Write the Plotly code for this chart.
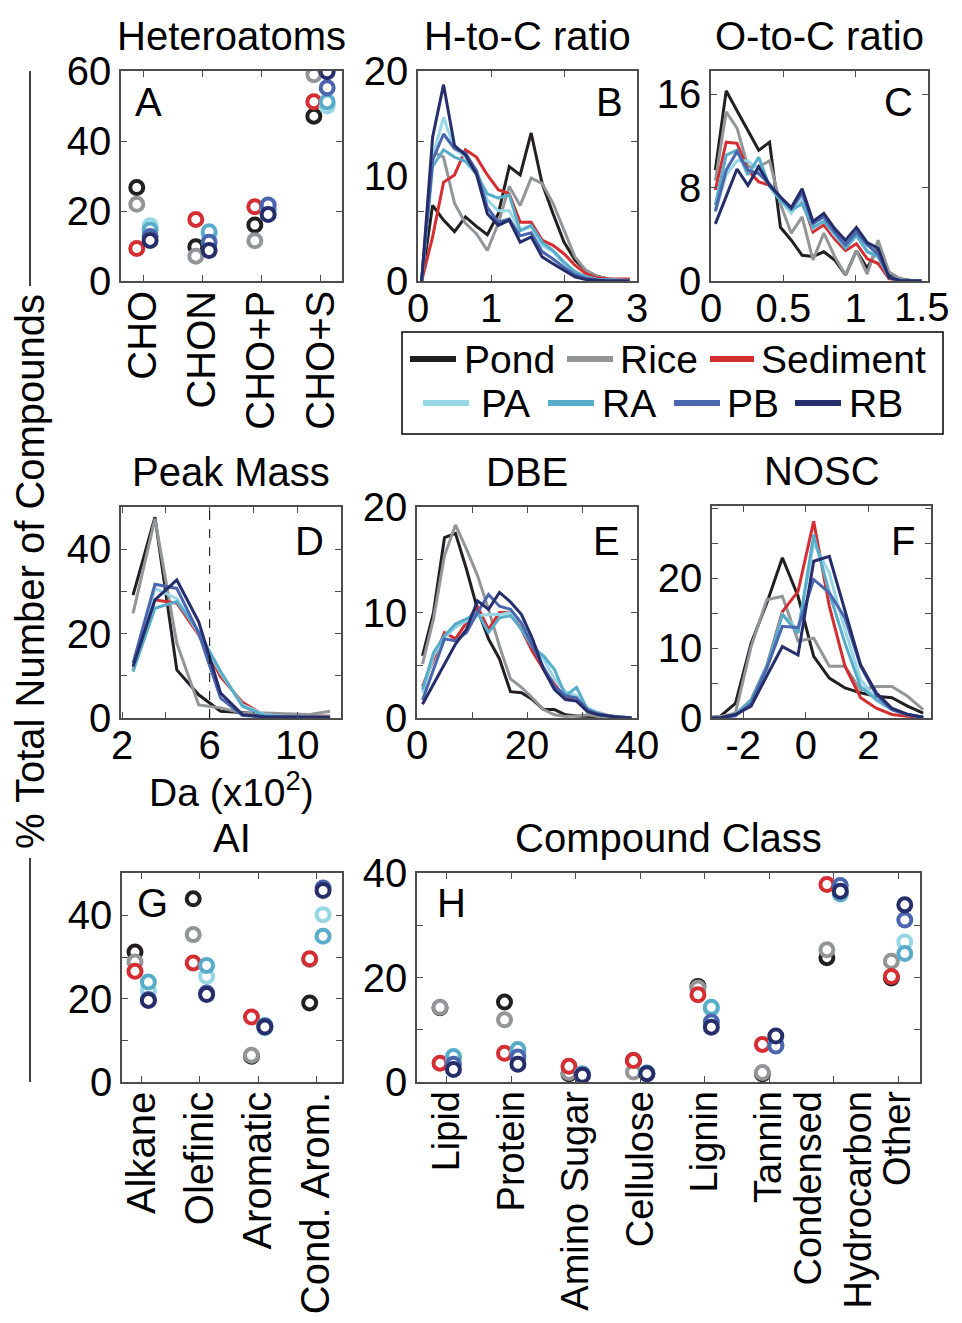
import plotly.graph_objects as go

# page body adds an 8px margin, so the figure is drawn from (8, 8)
OFF = 8
W, H = 946, 1307
FONT = "Liberation Sans, Arial, Helvetica, sans-serif"
AX = "#4d4d4d"

# ---------------- data ----------------
samples = ["Pond", "Rice", "Sediment", "PA", "RA", "PB", "RB"]
colors = ["#231f20", "#939598", "#d42e33", "#97d6e4", "#57adc9", "#4a66ae", "#252d6b"]

# A: heteroatoms
hetero_cats = ["CHO", "CHON", "CHO+P", "CHO+S"]
hetero = {
    "Pond": [26.7, 9.8, 16.0, 47.1],
    "Rice": [21.9, 7.1, 11.5, 58.9],
    "Sediment": [9.3, 17.6, 21.2, 51.2],
    "PA": [15.8, 13.5, 20.2, 50.0],
    "RA": [14.6, 14.1, 20.5, 51.2],
    "PB": [12.7, 11.1, 21.7, 55.2],
    "RB": [11.6, 8.7, 19.0, 59.8],
}

# B: H-to-C ratio
hc_x = [0.05, 0.20, 0.35, 0.50, 0.65, 0.80, 0.95, 1.10, 1.25, 1.40,
        1.55, 1.70, 1.85, 2.00, 2.15, 2.30, 2.45, 2.60, 2.75, 2.90]
hc = {
    "Pond": [0, 7.2, 5.8, 4.7, 6.1, 5.2, 4.4, 6.4, 10.9, 10.1, 14.1, 9.3, 6.4, 3.7, 2.0, 1.0, 0.45, 0.2, 0.1, 0.1],
    "Rice": [0, 12.3, 11.8, 7.4, 5.5, 4.5, 2.9, 5.5, 9.0, 7.2, 9.8, 9.3, 7.4, 4.8, 2.3, 1.0, 0.45, 0.2, 0.1, 0.1],
    "Sediment": [0, 4.2, 9.4, 10.1, 12.5, 11.8, 10.1, 8.7, 8.3, 5.6, 5.6, 3.9, 3.4, 2.6, 1.5, 0.7, 0.3, 0.2, 0.2, 0.2],
    "PA": [0, 11.8, 15.6, 12.6, 11.8, 10.6, 7.7, 6.7, 6.7, 4.8, 5.2, 3.4, 2.8, 1.65, 0.86, 0.4, 0.15, 0.1, 0.05, 0.05],
    "RA": [0, 10.9, 12.5, 11.8, 11.4, 10.2, 8.3, 7.9, 8.2, 4.8, 5.3, 3.7, 2.9, 1.8, 0.9, 0.4, 0.15, 0.1, 0.05, 0.05],
    "PB": [0, 11.5, 14.0, 12.6, 12.2, 10.5, 7.0, 5.6, 5.9, 4.3, 4.6, 2.8, 2.1, 1.3, 0.6, 0.25, 0.1, 0.05, 0, 0],
    "RB": [0, 13.7, 18.7, 12.9, 12.0, 10.2, 6.4, 5.3, 5.8, 3.7, 4.2, 2.3, 1.65, 1.0, 0.4, 0.15, 0.05, 0, 0, 0],
}

# C: O-to-C ratio
oc_x = [0.03, 0.105, 0.18, 0.255, 0.33, 0.405, 0.48, 0.555, 0.63, 0.705,
        0.78, 0.855, 0.93, 1.005, 1.08, 1.155, 1.23, 1.305, 1.38, 1.455]
oc = {
    "Pond": [9.5, 16.3, 14.6, 12.9, 11.2, 11.9, 4.6, 3.5, 2.2, 2.1, 2.5, 1.8, 0.5, 2.6, 1.1, 2.9, 0.6, 0.2, 0.05, 0],
    "Rice": [8.6, 14.5, 13.1, 9.8, 9.8, 10.3, 6.6, 4.1, 5.5, 1.8, 4.1, 2.1, 0.5, 2.6, 0.6, 3.5, 0.8, 0.2, 0.05, 0],
    "Sediment": [7.8, 11.9, 11.8, 9.5, 8.5, 8.2, 7.1, 6.2, 6.9, 4.2, 4.8, 3.6, 2.6, 3.2, 1.9, 1.5, 0.2, 0.05, 0, 0],
    "PA": [5.9, 9.1, 10.3, 10.3, 9.5, 8.2, 6.9, 5.8, 7.1, 4.5, 5.2, 3.9, 2.9, 4.1, 2.6, 2.1, 0.3, 0.05, 0, 0],
    "RA": [6.5, 10.8, 11.2, 9.1, 10.6, 8.1, 6.9, 6.1, 6.6, 4.6, 5.1, 4.1, 2.8, 3.9, 2.5, 2.1, 0.3, 0.05, 0, 0],
    "PB": [6.0, 9.5, 11.1, 9.5, 9.2, 8.3, 7.2, 6.2, 7.5, 4.9, 5.5, 4.2, 3.1, 4.2, 3.1, 2.3, 0.35, 0.05, 0, 0],
    "RB": [4.9, 7.2, 9.6, 8.2, 9.8, 8.2, 7.2, 6.3, 7.9, 5.1, 5.8, 4.5, 3.5, 4.6, 3.3, 2.8, 0.3, 0.05, 0, 0],
}

# D: peak mass (Da x100)
mass_x = [2.5, 3.5, 4.5, 5.5, 6.5, 7.5, 8.5, 9.5, 10.5, 11.5]
mass_threshold = 6
mass = {
    "Pond": [29.1, 47.6, 11.4, 5.5, 1.6, 1.3, 0.8, 0.6, 0.5, 0.4],
    "Rice": [24.8, 47.2, 17.7, 3.1, 2.4, 1.2, 1.2, 1.0, 0.8, 1.6],
    "Sediment": [11.4, 28.0, 27.2, 19.7, 9.8, 3.7, 0.6, 0.3, 0.3, 0.3],
    "PA": [11.0, 30.7, 28.3, 20.0, 10.6, 3.1, 0.8, 0.3, 0.2, 0.2],
    "RA": [11.0, 26.0, 27.6, 20.5, 11.0, 2.8, 0.6, 0.3, 0.2, 0.2],
    "PB": [13.0, 31.7, 30.7, 20.1, 4.7, 0.6, 0.3, 0.2, 0.1, 0.1],
    "RB": [12.2, 28.0, 32.7, 22.8, 5.9, 0.8, 0.3, 0.2, 0.1, 0.1],
}

# E: DBE
dbe_x = [1, 3, 5, 7, 9, 11, 13, 15, 17, 19, 21, 23, 25, 27, 29, 31, 33, 35, 37, 39]
dbe = {
    "Pond": [5.9, 10.0, 17.1, 17.5, 14.1, 10.3, 7.5, 5.6, 2.5, 2.4, 1.75, 0.8, 0.8, 0.3, 0.2, 0.15, 0.15, 0.05, 0, 0],
    "Rice": [5.1, 9.4, 15.4, 18.3, 16.0, 13.5, 10.3, 6.8, 3.7, 2.9, 1.9, 0.8, 0.3, 0.15, 0.2, 0.3, 0.15, 0.1, 0, 0],
    "Sediment": [3.0, 5.6, 8.1, 7.5, 9.0, 10.6, 8.4, 10.0, 10.0, 8.4, 6.3, 4.6, 3.2, 1.9, 1.9, 0.8, 0.5, 0.2, 0.1, 0],
    "PA": [2.4, 5.9, 7.6, 8.6, 9.2, 9.7, 9.8, 9.8, 10.0, 9.0, 7.1, 5.6, 3.7, 2.5, 2.1, 0.95, 0.5, 0.2, 0.1, 0],
    "RA": [2.7, 6.2, 7.8, 8.9, 9.4, 10.0, 8.1, 9.5, 9.7, 8.4, 6.7, 5.9, 4.6, 2.1, 2.9, 0.8, 0.3, 0.2, 0.1, 0],
    "PB": [1.7, 4.6, 7.5, 7.3, 8.1, 10.0, 11.7, 10.6, 10.3, 9.0, 6.8, 4.8, 3.0, 2.1, 1.9, 0.8, 0.4, 0.2, 0.1, 0],
    "RB": [1.3, 3.2, 5.2, 7.0, 8.4, 11.1, 10.3, 11.9, 11.0, 9.8, 7.5, 4.6, 2.7, 1.75, 1.6, 0.6, 0.3, 0.15, 0.05, 0],
}

# F: NOSC
nosc_x = [-3.25, -2.75, -2.25, -1.75, -1.25, -0.75, -0.25, 0.25, 0.75, 1.25, 1.75, 2.25, 2.75, 3.25, 3.75]
nosc = {
    "Pond": [0, 0.2, 2.1, 10.7, 16.4, 22.9, 17.4, 8.8, 5.7, 4.3, 3.6, 3.1, 2.9, 1.7, 0.7],
    "Rice": [0, 0.2, 0.7, 10.2, 16.9, 17.4, 11.0, 11.4, 7.4, 7.4, 4.0, 4.5, 4.5, 3.1, 1.2],
    "Sediment": [0, 0, 0.5, 2.6, 7.4, 15.2, 18.1, 28.1, 16.0, 7.4, 2.9, 1.4, 0.5, 0.2, 0],
    "PA": [0, 0, 0.5, 2.4, 7.0, 14.8, 12.6, 25.0, 20.7, 12.6, 5.5, 2.6, 1.2, 0.5, 0.1],
    "RA": [0, 0, 0.5, 2.6, 7.4, 14.8, 12.1, 26.2, 17.9, 10.7, 4.5, 2.6, 1.2, 0.5, 0.1],
    "PB": [0, 0, 0.3, 2.1, 7.1, 13.1, 12.9, 19.8, 17.9, 14.3, 7.4, 3.3, 1.2, 0.5, 0.1],
    "RB": [0, 0, 0.5, 1.7, 6.0, 10.2, 9.0, 22.4, 23.1, 15.5, 7.6, 3.6, 1.4, 0.5, 0.1],
}

# G: AI
ai_cats = ["Alkane", "Olefinic", "Aromatic", "Cond. Arom."]
ai = {
    "Pond": [31.2, 44.0, 6.2, 19.0],
    "Rice": [28.8, 35.4, 6.4, 29.4],
    "Sediment": [26.6, 28.6, 15.6, 29.6],
    "PA": [22.0, 25.4, 13.0, 40.2],
    "RA": [24.0, 28.0, 13.6, 35.0],
    "PB": [19.8, 21.4, 13.4, 46.6],
    "RB": [19.6, 21.0, 13.2, 46.0],
}

# H: compound class
cc_cats = ["Lipid", "Protein", "Amino Sugar", "Cellulose", "Lignin", "Tannin",
           "Condensed<br>Hydrocarbon", "Other"]
cc = {
    "Pond": [14.2, 15.3, 1.6, 4.1, 18.3, 1.6, 23.8, 19.9],
    "Rice": [14.3, 11.9, 1.8, 1.9, 18.0, 1.8, 25.3, 23.1],
    "Sediment": [3.6, 5.5, 3.0, 4.1, 16.7, 7.2, 37.8, 20.2],
    "PA": [4.5, 5.8, 1.5, 1.7, 14.0, 7.0, 36.5, 26.8],
    "RA": [4.9, 6.2, 1.6, 1.7, 14.3, 7.2, 36.0, 24.6],
    "PB": [3.4, 4.8, 1.3, 1.6, 11.5, 6.9, 37.6, 31.0],
    "RB": [2.4, 3.4, 1.3, 1.6, 10.5, 8.8, 36.5, 33.9],
}

# ---------------- layout helpers (page pixel boxes) ----------------
boxes = {
    1: (121, 71, 342, 281),
    2: (418, 71, 637, 281),
    3: (711, 71, 928, 281),
    4: (121, 507, 341, 718),
    5: (417, 507, 637, 718),
    6: (712, 506, 931, 718),
    7: (122, 873, 342, 1082),
    8: (417, 873, 920, 1082),
}


def px(x):
    return (x - OFF) / W


def py(y):
    return 1 - (y - OFF) / H


TICKSZ = 40


def axis(i, letter, **kw):
    x0, y0, x1, y1 = boxes[i]
    d = dict(showline=True, linecolor=AX, linewidth=1.6, mirror="ticks",
             ticks="inside", ticklen=6, tickwidth=1.4, tickcolor=AX,
             showgrid=False, zeroline=False, fixedrange=True, automargin=False,
             tickfont=dict(size=TICKSZ, color="black", family=FONT))
    if letter == "x":
        d["domain"] = [px(x0), px(x1)]
        d["anchor"] = "y" if i == 1 else f"y{i}"
        d["ticklabelstandoff"] = -9
    else:
        d["domain"] = [py(y1), py(y0)]
        d["anchor"] = "x" if i == 1 else f"x{i}"
    d.update(kw)
    return d


def refs(i):
    return ("x", "y") if i == 1 else (f"x{i}", f"y{i}")


fig = go.Figure()

# line panels
line_panels = [(2, hc_x, hc), (3, oc_x, oc), (4, mass_x, mass), (5, dbe_x, dbe), (6, nosc_x, nosc)]
for i, xs, data in line_panels:
    xr, yr = refs(i)
    for name, col in zip(samples, colors):
        fig.add_trace(go.Scatter(x=xs, y=data[name], mode="lines", name=name,
                                 line=dict(color=col, width=3), xaxis=xr, yaxis=yr,
                                 showlegend=False, hoverinfo="skip"))

# dot panels
group_left = ["Pond", "Rice", "Sediment"]
dot_panels = [(1, hetero_cats, hetero, 0.113), (7, ai_cats, ai, 0.115), (8, cc_cats, cc, 0.104)]
for i, cats, data, off in dot_panels:
    xr, yr = refs(i)
    pos = list(range(1, len(cats) + 1))
    for name, col in zip(samples, colors):
        shift = -off if name in group_left else off
        xs = [p + shift for p in pos]
        fig.add_trace(go.Scatter(x=xs, y=data[name], mode="markers", name=name,
                                 marker=dict(symbol="circle", size=13, color="white",
                                             line=dict(width=4, color=col)),
                                 xaxis=xr, yaxis=yr, showlegend=False, hoverinfo="skip"))

lay = dict(template="none", width=W, height=H, margin=dict(l=0, r=0, t=0, b=0, pad=0),
           paper_bgcolor="white", plot_bgcolor="white", showlegend=False,
           font=dict(family=FONT, size=40, color="black"))

catfont = dict(size=40, color="black", family=FONT)
catfont_h = dict(size=38, color="black", family=FONT)
# A
lay["xaxis"] = axis(1, "x", range=[0.62, 4.364], tickvals=[1, 2, 3, 4], ticktext=hetero_cats,
                    tickangle=-90, tickfont=catfont, ticklabelstandoff=-8)
lay["yaxis"] = axis(1, "y", range=[0, 60], tickvals=[0, 20, 40, 60])
# B
lay["xaxis2"] = axis(2, "x", range=[0, 3], tickvals=[0, 1, 2, 3])
lay["yaxis2"] = axis(2, "y", range=[0, 20], tickvals=[0, 10, 20], ticks="",
                     minor=dict(tickvals=[20 / 3, 40 / 3], ticks="inside", ticklen=6,
                                tickcolor=AX, tickwidth=1.4))
# C (last label drawn as an annotation so that it is not dropped at the page edge)
lay["xaxis3"] = axis(3, "x", range=[0, 1.5], tickvals=[0, 0.5, 1, 1.5], ticktext=["0", "0.5", "1", " "])
lay["yaxis3"] = axis(3, "y", range=[0, 18], tickvals=[0, 8, 16])
# D
lay["xaxis4"] = axis(4, "x", range=[1.95, 12], tickvals=[2, 4, 6, 8, 10, 12], ticktext=["2", " ", "6", " ", "10", " "])
lay["yaxis4"] = axis(4, "y", range=[0, 50], tickvals=[0, 10, 20, 30, 40, 50], ticktext=["0", " ", "20", " ", "40", " "])
# E
lay["xaxis5"] = axis(5, "x", range=[0, 40], tickvals=[0, 10, 20, 30, 40], ticktext=["0", " ", "20", " ", "40"])
lay["yaxis5"] = axis(5, "y", range=[0, 20], tickvals=[0, 5, 10, 15, 20], ticktext=["0", " ", "10", " ", "20"])
# F
lay["xaxis6"] = axis(6, "x", range=[-3, 4], tickvals=[-2, 0, 2], ticktext=["-2", "0", "2"])
lay["yaxis6"] = axis(6, "y", range=[0, 30.3], tickvals=[0, 5, 10, 15, 20, 25, 30],
                     ticktext=["0", " ", "10", " ", "20", " ", " "])
# G
lay["xaxis7"] = axis(7, "x", range=[0.662, 4.44], tickvals=[1, 2, 3, 4], ticktext=ai_cats,
                     tickangle=-90, tickfont=catfont, ticklabelstandoff=-8)
lay["yaxis7"] = axis(7, "y", range=[0, 50.2], tickvals=[0, 10, 20, 30, 40, 50],
                     ticktext=["0", " ", "20", " ", "40", " "])
# H
lay["xaxis8"] = axis(8, "x", range=[0.539, 8.34], tickvals=list(range(1, 9)), ticktext=cc_cats,
                     tickangle=-90, tickfont=catfont_h, ticklabelstandoff=-8)
lay["yaxis8"] = axis(8, "y", range=[0, 40], tickvals=[0, 10, 20, 30, 40], ticktext=["0", " ", "20", " ", "40"])

fig.update_layout(**lay)

annotations = []
shapes = []


def text(x, y, s, size=40, xanchor="center", yanchor="middle", angle=0):
    annotations.append(dict(x=px(x), y=py(y), xref="paper", yref="paper", text=s,
                            showarrow=False, xanchor=xanchor, yanchor=yanchor,
                            textangle=angle, font=dict(size=size, family=FONT, color="black")))


# panel titles
titles = [("Heteroatoms", 1), ("H-to-C ratio", 2), ("O-to-C ratio", 3), ("Peak Mass", 4),
          ("DBE", 5), ("NOSC", 6), ("AI", 7), ("Compound Class", 8)]
for t, i in titles:
    x0, y0, x1, y1 = boxes[i]
    text((x0 + x1) / 2, y0 - 35, t)

# panel letters
letters = [("A", 148, 102), ("B", 609, 102), ("C", 898, 102), ("D", 309, 541),
           ("E", 606, 541), ("F", 903, 541), ("G", 152, 903), ("H", 451, 903)]
for s, x, y in letters:
    text(x, y, s)

# last x tick label of panel C
text(952, 307, "1.5", size=TICKSZ, xanchor="right")

# x-axis title for D
text(231, 789, "Da (x10<sup>2</sup>)", size=39)

# shared y label
text(30, 572, "% Total Number of Compounds", angle=-90)
shapes.append(dict(type="line", xref="paper", yref="paper", x0=px(30), x1=px(30),
                   y0=py(71), y1=py(286), line=dict(color="black", width=1.5)))
shapes.append(dict(type="line", xref="paper", yref="paper", x0=px(30), x1=px(30),
                   y0=py(858), y1=py(1082), line=dict(color="black", width=1.5)))

# dashed threshold line in D
shapes.append(dict(type="line", xref="x4", yref="y4 domain", x0=mass_threshold, x1=mass_threshold,
                   y0=0, y1=1, line=dict(color="black", width=1, dash="dash")))

# legend (manual)
shapes.append(dict(type="rect", xref="paper", yref="paper", x0=px(402), x1=px(943),
                   y0=py(434), y1=py(332), line=dict(color="black", width=1.5)))
legend_pos = [(410, 456, 462, 359), (567, 613, 618, 359), (710, 754, 759, 359),
              (423, 469, 479, 403), (548, 594, 600, 403), (674, 720, 725, 403), (795, 841, 847, 403)]
for (lx0, lx1, tx, ly), name, col in zip(legend_pos, samples, colors):
    shapes.append(dict(type="line", xref="paper", yref="paper", x0=px(lx0), x1=px(lx1),
                       y0=py(ly), y1=py(ly), line=dict(color=col, width=6)))
    text(tx, ly, name, size=39, xanchor="left")

fig.update_layout(annotations=annotations, shapes=shapes)
fig.write_html("out.html")
